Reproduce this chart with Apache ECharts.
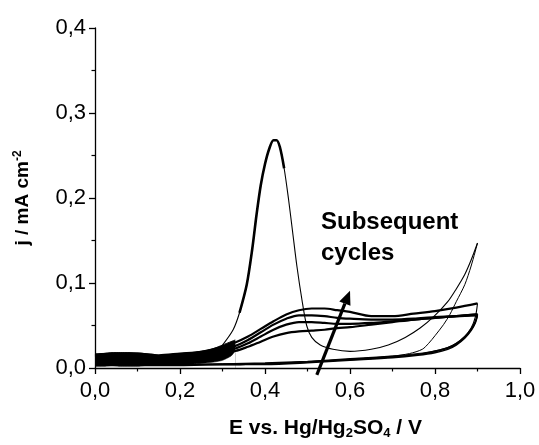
<!DOCTYPE html>
<html><head><meta charset="utf-8">
<script src="https://cdn.jsdelivr.net/npm/echarts@6/dist/echarts.min.js"></script>
<style>html,body{margin:0;padding:0;background:#fff}#c{width:539px;height:445px}</style>
</head><body><div id="c"></div>
<script>
// Tick labels
const xTickLabels = ['0,0','0,2','0,4','0,6','0,8','1,0'];
const yTickLabels = ['0,0','0,1','0,2','0,3','0,4'];

// Dense low-potential band (overlapping noisy scans)
const bandX   = [0, 0.02, 0.04, 0.06, 0.08, 0.10, 0.12, 0.14, 0.16, 0.18, 0.20, 0.22, 0.24, 0.26, 0.28, 0.30, 0.32, 0.33];
const bandTop = [0.015,0.017,0.018,0.018,0.018,0.017,0.015,0.014,0.015,0.016,0.017,0.017,0.018,0.020,0.023,0.027,0.031,0.033];
const bandBot = [0.002,0.002,0.003,0.002,0.002,0.002,0.003,0.003,0.003,0.003,0.004,0.004,0.005,0.006,0.007,0.009,0.014,0.020];

// Cycle 1, forward scan (large oxidation peak)
const c1FwdX = [0.30,0.325,0.34,0.357,0.37,0.38,0.39,0.40,0.41,0.42,0.427,0.435,0.445,0.455,0.465,0.475,0.487,0.498,0.51,0.53,0.56,0.60,0.65,0.69,0.73,0.765,0.80,0.83,0.85,0.87,0.885,0.90];
const c1FwdY = [0.027,0.045,0.065,0.098,0.14,0.18,0.215,0.24,0.258,0.268,0.268,0.26,0.235,0.20,0.16,0.12,0.08,0.05,0.036,0.027,0.022,0.0196,0.022,0.027,0.036,0.047,0.062,0.078,0.093,0.11,0.127,0.147];
// Cycle 1, reverse scan
const c1RevX = [0.90,0.885,0.87,0.85,0.835,0.82,0.80,0.785,0.77,0.74,0.70,0.60,0.50,0.40,0.30,0.20,0.10,0.0];
const c1RevY = [0.147,0.12,0.098,0.078,0.063,0.051,0.038,0.029,0.022,0.017,0.014,0.010,0.007,0.005,0.005,0.004,0.004,0.004];

// Subsequent cycles, forward scans
const fwdX = [0,0.05,0.10,0.15,0.20,0.25,0.30,0.33,0.36,0.39,0.42,0.45,0.48,0.51,0.54,0.57,0.60,0.65,0.70,0.75,0.80,0.85,0.90];
const c2Fwd = [0.013,0.015,0.015,0.013,0.015,0.017,0.019,0.020,0.025,0.031,0.037,0.041,0.043,0.044,0.045,0.047,0.048,0.051,0.054,0.057,0.059,0.061,0.063];
const c3Fwd = [0.014,0.016,0.016,0.014,0.016,0.018,0.021,0.023,0.029,0.037,0.045,0.051,0.054,0.054,0.053,0.052,0.052,0.053,0.055,0.057,0.059,0.061,0.062];
const c4Fwd = [0.015,0.017,0.017,0.014,0.016,0.019,0.023,0.026,0.033,0.042,0.051,0.058,0.062,0.062,0.061,0.059,0.058,0.057,0.057,0.058,0.060,0.061,0.063];
const c5Fwd = [0.016,0.017,0.017,0.015,0.017,0.019,0.025,0.030,0.037,0.046,0.055,0.063,0.068,0.070,0.070,0.068,0.066,0.061,0.061,0.064,0.067,0.071,0.076];

// Subsequent cycles, reverse scans
const revX = [0.90,0.895,0.885,0.87,0.85,0.83,0.80,0.76,0.70,0.60,0.50,0.40,0.30,0.20,0.10,0.0];
const c2Rev = [0.063,0.054,0.045,0.036,0.028,0.023,0.019,0.016,0.013,0.010,0.007,0.005,0.004,0.004,0.004,0.004];
const c3Rev = [0.062,0.053,0.044,0.035,0.027,0.022,0.018,0.015,0.012,0.009,0.006,0.004,0.004,0.003,0.003,0.003];
const c4Rev = [0.063,0.055,0.046,0.037,0.029,0.024,0.020,0.016,0.013,0.010,0.007,0.005,0.004,0.004,0.004,0.004];
const c5Rev = [0.076,0.060,0.047,0.037,0.029,0.024,0.020,0.017,0.014,0.011,0.008,0.006,0.005,0.004,0.004,0.004];

// Annotation (data coordinates)
const arrowFrom = [0.522, -0.008];
const arrowTo   = [0.600, 0.091];
const noteLines = ['Subsequent', 'cycles'];

const FONT = '"Liberation Sans", Arial, sans-serif';
const zip = (xs, ys) => xs.map((x, i) => [x, ys[i]]);
function line(name, xs, ys, width, z, smooth) {
  return { name, type: 'line', data: zip(xs, ys), showSymbol: false, symbol: 'none',
    smooth: smooth === undefined ? 0.3 : smooth, z: z || 3, silent: true,
    lineStyle: { color: '#000', width: width } };
}

const chart = echarts.init(document.getElementById('c'), null, { renderer: 'canvas' });

const series = [
  Object.assign(line('bandTop', bandX, bandTop, 1, 2, 0.2), { areaStyle: { color: '#000', opacity: 1 } }),
  Object.assign(line('bandBot', bandX, bandBot, 0.5, 2.1, 0.2), { areaStyle: { color: '#fff', opacity: 1 }, lineStyle: { color: '#000', width: 0.5 } }),
  line('c2f', fwdX, c2Fwd, 2.2, 4), line('c3f', fwdX, c3Fwd, 2.2, 4),
  line('c4f', fwdX, c4Fwd, 2.2, 4), line('c5f', fwdX, c5Fwd, 2.2, 4),
  line('c2r', revX, c2Rev, 1.4, 4), line('c3r', revX, c3Rev, 1.4, 4),
  line('c4r', revX, c4Rev, 1.4, 4), line('c5r', revX, c5Rev, 1.1, 4),
  line('c1f', c1FwdX, c1FwdY, 1.1, 5),
  line('c1r', c1RevX, c1RevY, 1.0, 5),
  line('c1peak', c1FwdX.slice(2, 13), c1FwdY.slice(2, 13), 2.6, 5)
];

chart.setOption({
  animation: false,
  backgroundColor: '#fff',
  grid: { left: 95, right: 19, top: 28, bottom: 74, containLabel: false },
  xAxis: {
    type: 'value', min: 0, max: 1, interval: 0.2, z: 10,
    axisLine: { show: true, onZero: false, lineStyle: { color: '#000', width: 1.3 } },
    axisTick: { show: true, inside: false, length: 6, lineStyle: { color: '#000', width: 1.3 } },
    minorTick: { show: true, splitNumber: 2, length: 3.5, lineStyle: { color: '#000', width: 1.2 } },
    splitLine: { show: false },
    axisLabel: { color: '#000', fontSize: 22, fontFamily: FONT, margin: 12,
      formatter: v => xTickLabels[Math.round(v / 0.2)] },
    name: '{a|E vs. Hg/Hg}{s|2}{a|SO}{s|4}{a| / V}',
    nameLocation: 'middle', nameGap: 49,
    nameTextStyle: { padding: [0, 0, 0, 36], rich: {
      a: { fontSize: 21, fontWeight: 'bold', fontFamily: FONT, color: '#000' },
      s: { fontSize: 13, fontWeight: 'bold', fontFamily: FONT, color: '#000', padding: [10, 0, 0, 0] } } }
  },
  yAxis: {
    type: 'value', min: 0, max: 0.4, interval: 0.1, z: 10,
    axisLine: { show: true, onZero: false, lineStyle: { color: '#000', width: 1.3 } },
    axisTick: { show: true, inside: false, length: 6, lineStyle: { color: '#000', width: 1.3 } },
    minorTick: { show: true, splitNumber: 2, length: 3.5, lineStyle: { color: '#000', width: 1.2 } },
    splitLine: { show: false },
    axisLabel: { color: '#000', fontSize: 22, fontFamily: FONT, margin: 9,
      formatter: v => yTickLabels[Math.round(v / 0.1)] },
    name: '{a|j / mA cm}{s|-2}',
    nameLocation: 'middle', nameGap: 61, nameRotate: 90,
    nameTextStyle: { rich: {
      a: { fontSize: 19, fontWeight: 'bold', fontFamily: FONT, color: '#000' },
      s: { fontSize: 12, fontWeight: 'bold', fontFamily: FONT, color: '#000', padding: [0, 0, 10, 0] } } }
  },
  series
});

// Annotation arrow and text via the chart's own coordinate conversion
const p0 = chart.convertToPixel({ gridIndex: 0 }, arrowFrom);
const p1 = chart.convertToPixel({ gridIndex: 0 }, arrowTo);
const ang = Math.atan2(p1[1] - p0[1], p1[0] - p0[0]);
const headLen = 14, headW = 6;
const bx = p1[0] - headLen * Math.cos(ang), by = p1[1] - headLen * Math.sin(ang);
const nx = -Math.sin(ang), ny = Math.cos(ang);
chart.setOption({
  graphic: [
    { type: 'line', z: 20, shape: { x1: p0[0], y1: p0[1], x2: bx, y2: by }, style: { stroke: '#000', lineWidth: 3.2 } },
    { type: 'polygon', z: 20, shape: { points: [[p1[0], p1[1]], [bx + nx * headW, by + ny * headW], [bx - nx * headW, by - ny * headW]] }, style: { fill: '#000' } },
    { type: 'text', z: 20, left: 321, top: 210, style: { text: noteLines[0], font: 'bold 24px ' + FONT, fill: '#000' } },
    { type: 'text', z: 20, left: 321, top: 241, style: { text: noteLines[1], font: 'bold 24px ' + FONT, fill: '#000' } }
  ]
});
</script>
</body></html>
